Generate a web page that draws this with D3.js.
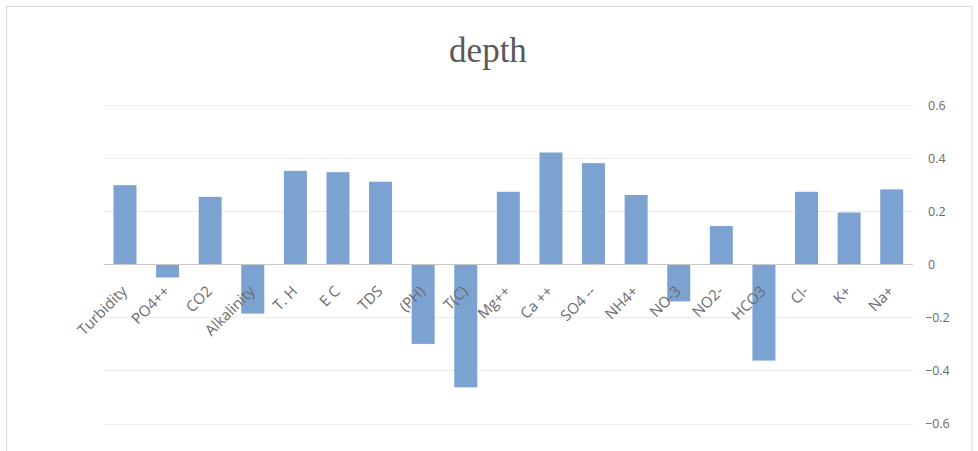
<!DOCTYPE html>
<html>
<head>
<meta charset="utf-8">
<script src="https://cdn.jsdelivr.net/npm/d3@7"></script>
<style>
  html, body { margin: 0; padding: 0; background: #ffffff; }
  svg { display: block; }
</style>
</head>
<body>
<svg id="chart" width="978" height="451"></svg>
<script>
// Correlation of each water-quality parameter with depth
const categories = ["Turbidity", "PO4++", "CO2", "Alkalinity", "T. H", "E C", "TDS", "(PH)", "T(C)",
  "Mg++", "Ca ++", "SO4 --", "NH4+", "NO-3", "NO2-", "HCO3", "Cl-", "K+", "Na+"];
const values = [0.298, -0.05, 0.254, -0.186, 0.352, 0.347, 0.311, -0.30, -0.464,
  0.273, 0.421, 0.381, 0.261, -0.14, 0.144, -0.363, 0.273, 0.195, 0.282];
const yTicks = [-0.6, -0.4, -0.2, 0, 0.2, 0.4, 0.6];
const title = "depth";

const svg = d3.select("#chart");

// outer frame
svg.append("rect")
  .attr("x", 6.5).attr("y", 6.5)
  .attr("width", 965.5).attr("height", 450)
  .attr("fill", "#ffffff")
  .attr("stroke", "#d9d9d9").attr("stroke-width", 1);

const plot = { left: 103.7, right: 913 };

const x = d3.scaleBand()
  .domain(categories)
  .range([plot.left, plot.right])
  .paddingInner(0.46)
  .paddingOuter(0.23);

const y = d3.scaleLinear().domain([-0.6, 0.6]).range([423.5, 105]);

// gridlines
svg.append("g")
  .selectAll("line")
  .data(yTicks.filter(t => t !== 0))
  .join("line")
  .attr("x1", plot.left).attr("x2", plot.right)
  .attr("y1", d => Math.round(y(d)) + 0.5).attr("y2", d => Math.round(y(d)) + 0.5)
  .attr("stroke", "#ececec").attr("stroke-width", 1);

// bars
svg.append("g")
  .selectAll("rect")
  .data(categories.map((c, i) => ({ c, v: values[i] })))
  .join("rect")
  .attr("x", d => x(d.c))
  .attr("width", x.bandwidth())
  .attr("y", d => y(Math.max(0, d.v)))
  .attr("height", d => Math.abs(y(d.v) - y(0)))
  .attr("fill", "#7ca2d2");

// zero axis line
svg.append("line")
  .attr("x1", plot.left).attr("x2", plot.right)
  .attr("y1", Math.round(y(0)) + 0.5).attr("y2", Math.round(y(0)) + 0.5)
  .attr("stroke", "#c8c8c8").attr("stroke-width", 1);

// right-hand value axis
const yAxis = d3.axisRight(y).tickValues(yTicks).tickSize(0).tickPadding(0)
  .tickFormat(d => d === 0 ? "0" : d3.format(".1f")(d));
const ya = svg.append("g").attr("transform", "translate(928,0)").call(yAxis);
ya.select(".domain").remove();
ya.selectAll("text")
  .attr("fill", "#6b6b6b")
  .attr("font-family", "'Open Sans', 'Noto Sans', sans-serif")
  .attr("font-size", 12.5)
  .attr("dy", "0.35em")
  .attr("x", d => d < 0 ? -3 : 0);

// category labels, rotated 45 degrees
svg.append("g")
  .selectAll("text")
  .data(categories)
  .join("text")
  .attr("transform", d => `translate(${x(d) + x.bandwidth() / 2 + 3},${y(0) + 28}) rotate(-45)`)
  .attr("text-anchor", "end")
  .attr("fill", "#6b6b6b")
  .attr("font-family", "'Open Sans', 'Noto Sans', sans-serif")
  .attr("font-size", 15)
  .text(d => d);

// title
svg.append("text")
  .attr("x", 488).attr("y", 62)
  .attr("text-anchor", "middle")
  .attr("fill", "#595959")
  .attr("font-family", "'Liberation Serif', serif")
  .attr("font-size", 35)
  .text(title);
</script>
</body>
</html>
